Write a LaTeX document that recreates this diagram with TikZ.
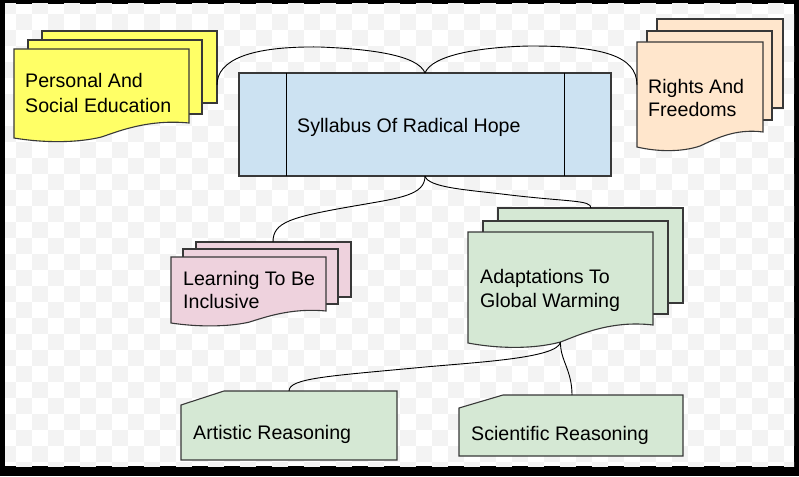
\documentclass[tikz,border=0pt]{standalone}
\usepackage{fontspec}
\setmainfont{Liberation Sans}
\definecolor{checker}{HTML}{F3F3F3}
\definecolor{shapeline}{HTML}{383838}
\definecolor{yellowfill}{HTML}{FFFF66}
\definecolor{peachfill}{HTML}{FFE6CC}
\definecolor{bluefill}{HTML}{CCE2F2}
\definecolor{pinkfill}{HTML}{EED2DD}
\definecolor{greenfill}{HTML}{D5E8D4}
\begin{document}
\begin{tikzpicture}[x=1pt,y=-1pt,
  shp/.style={draw=shapeline, line width=1.1pt},
  conn/.style={draw=black, line width=0.9pt},
  lbl/.style={anchor=base west, inner sep=0pt, text=black,
    font=\fontsize{19.6}{23.5}\selectfont}]
\useasboundingbox (0,0) rectangle (799,476);
% frame and transparent-style background
\fill[black] (0,0) rectangle (799,476);
\fill[white] (5,4) rectangle (794,466);
\begin{scope}
\clip (5,4) rectangle (794,466);
\foreach \i in {0,...,49}{
  \foreach \j in {-1,...,29}{
    \pgfmathtruncatemacro\s{mod(\i+\j+100,2)}
    \ifnum\s=1 \fill[checker] (\i*16,\j*16+14) rectangle ++(16,16);\fi
  }}
\end{scope}

% Personal And Social Education (multi document)
\filldraw[shp, fill=yellowfill] (42,31) rectangle (217,103);
\filldraw[shp, fill=yellowfill] (28,40) rectangle (202,114);
\filldraw[shp, fill=yellowfill] (14,49) -- (189,49) -- (189,123)
  .. controls (149,119) and (119,131) .. (101.5,137)
  .. controls (77,143) and (44,143) .. (14,138) -- cycle;
\node[lbl] (pse1) at (25,88) {Personal And};
\node[lbl] (pse2) at (25,112) {Social Education};
\coordinate (pse-r) at (217,85);

% Rights And Freedoms
\filldraw[shp, fill=peachfill] (657,19) rectangle (783,108);
\filldraw[shp, fill=peachfill] (647,31) rectangle (772,120);
\filldraw[shp, fill=peachfill] (637,42) -- (763,42) -- (763,132)
  .. controls (734,128) and (712.6,140.4) .. (700,146)
  .. controls (682.4,152) and (658.4,152) .. (637,147) -- cycle;
\node[lbl] (rf1) at (648,93) {Rights And};
\node[lbl] (rf2) at (648,116) {Freedoms};
\coordinate (rf-l) at (637,85);

% Syllabus Of Radical Hope (process)
\filldraw[shp, fill=bluefill] (239,73) rectangle (611,176);
\draw[black, line width=0.9pt] (286,73) -- (286,176);
\draw[black, line width=0.9pt] (564,73) -- (564,176);
\node[lbl] (syl) at (297,132) {Syllabus Of Radical Hope};
\coordinate (syl-t) at (425,73);
\coordinate (syl-b) at (425,176);

% Learning To Be Inclusive
\filldraw[shp, fill=pinkfill] (196,242) rectangle (351,297);
\filldraw[shp, fill=pinkfill] (183,249) rectangle (338,304);
\filldraw[shp, fill=pinkfill] (171,257) -- (326,257) -- (326,311)
  .. controls (290.4,307.6) and (264,317.7) .. (248.5,322.3)
  .. controls (226.8,327) and (197.4,327) .. (171,323) -- cycle;
\node[lbl] (lib1) at (183,285) {Learning To Be};
\node[lbl] (lib2) at (183,308) {Inclusive};
\coordinate (lib-t) at (273,242);

% Adaptations To Global Warming
\filldraw[shp, fill=greenfill] (498,208) rectangle (683,303);
\filldraw[shp, fill=greenfill] (483,221) rectangle (668,314);
\filldraw[shp, fill=greenfill] (468,232) -- (653,232) -- (653,325)
  .. controls (610.5,320) and (579,335) .. (560.5,342)
  .. controls (534.6,349) and (499.5,349) .. (468,343) -- cycle;
\node[lbl] (agw1) at (480,283) {Adaptations To};
\node[lbl] (agw2) at (480,307) {Global Warming};
\coordinate (agw-t) at (591,208);
\coordinate (agw-b) at (560.5,342);

% Artistic Reasoning (card)
\filldraw[shp, fill=greenfill] (181,405) -- (224,391) -- (397,391) -- (397,460) -- (181,460) -- cycle;
\node[lbl] (ar) at (193,439.5) {Artistic Reasoning};
\coordinate (ar-t) at (289,391);

% Scientific Reasoning (card)
\filldraw[shp, fill=greenfill] (459,408) -- (503,395) -- (683,395) -- (683,456) -- (459,456) -- cycle;
\node[lbl] (sr) at (471,440) {Scientific Reasoning};
\coordinate (sr-t) at (572,395);

% connectors
\draw[conn] (syl-t) .. controls (418,55) and (370,49) .. (320,47)
  .. controls (250,46) and (217,60) .. (pse-r);
\draw[conn] (syl-t) .. controls (432,55) and (480,47) .. (530,46)
  .. controls (600,46) and (637,55) .. (rf-l);
\draw[conn] (syl-b) .. controls (425,195) and (400,198) .. (360,205)
  .. controls (290,217) and (273,222) .. (lib-t);
\draw[conn] (syl-b) .. controls (428,188) and (470,190) .. (510,195)
  .. controls (570,202) and (591,200) .. (agw-t);
\draw[conn] (agw-b) .. controls (558,358) and (480,362) .. (425,367)
  .. controls (330,376) and (289,378) .. (ar-t);
\draw[conn] (agw-b) .. controls (560,360) and (572,370) .. (sr-t);
\end{tikzpicture}
\end{document}
